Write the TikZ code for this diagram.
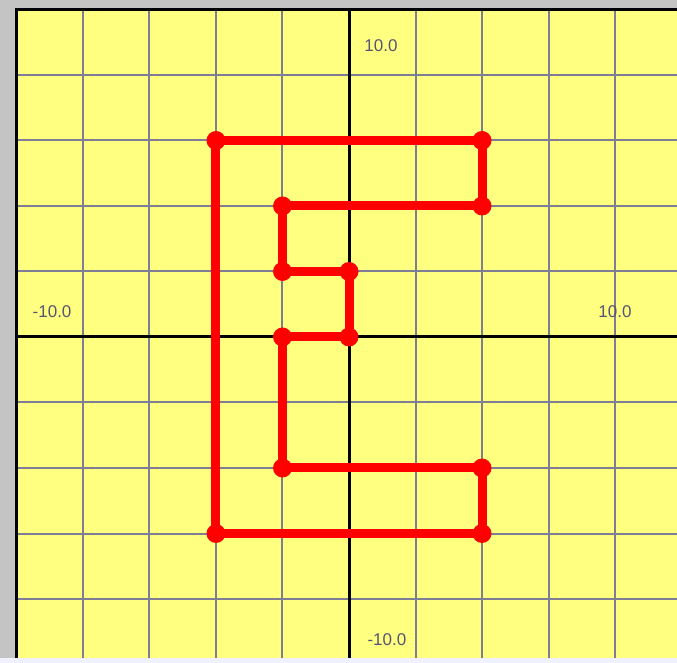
\documentclass[tikz,border=0pt]{standalone}
\usepackage{fontspec}
\setmainfont{Liberation Sans}
\definecolor{plotyellow}{RGB}{255,255,128}
\definecolor{gridc}{RGB}{125,125,150}
\definecolor{framegray}{RGB}{196,196,196}
\definecolor{labelc}{RGB}{85,85,115}
\definecolor{shapered}{RGB}{255,0,0}
\begin{document}
\begin{tikzpicture}[x=33.25pt,y=32.75pt,
  gridline/.style={draw=gridc,line width=2pt},
  axisline/.style={draw=black,line width=3pt},
  edgeline/.style={draw=shapered,line width=9pt,line join=round,line cap=round},
  vdot/.style={circle,fill=shapered,inner sep=0pt,minimum size=19pt},
  axlabel/.style={text=labelc,font=\fontsize{17}{17}\selectfont,inner sep=0pt}]
\useasboundingbox (-349pt,-326pt) rectangle (328pt,337pt);
% window background
\fill[framegray] (-349pt,-326pt) rectangle (328pt,337pt);
\fill[white!94!blue] (-349pt,-326pt) rectangle (328pt,-321pt);
% plot area
\fill[plotyellow] (-10,-9.8) rectangle (9.865,10);
% grid
\foreach \u in {-8,-6,-4,-2,2,4,6,8} {
  \draw[gridline] (\u,-9.8) -- (\u,10);
  \draw[gridline] (-10,\u) -- (9.865,\u);
}
% axes
\draw[axisline] (0,-9.8) -- (0,10);
\draw[axisline] (-10,0) -- (9.865,0);
% frame edges
\draw[draw=black,line width=3pt] (-10,-9.8) -- (-10,10) -- (9.865,10);
% labels
\node[axlabel] (ltop) at (0.96,8.89) {10.0};
\node[axlabel] (lleft) at (-8.93,0.76) {-10.0};
\node[axlabel] (lright) at (8.0,0.76) {10.0};
\node[axlabel] (lbottom) at (1.14,-9.25) {-10.0};
% shape vertices
\coordinate (p1) at (-4,6);
\coordinate (p2) at (4,6);
\coordinate (p3) at (4,4);
\coordinate (p4) at (-2,4);
\coordinate (p5) at (-2,2);
\coordinate (p6) at (0,2);
\coordinate (p7) at (0,0);
\coordinate (p8) at (-2,0);
\coordinate (p9) at (-2,-4);
\coordinate (p10) at (4,-4);
\coordinate (p11) at (4,-6);
\coordinate (p12) at (-4,-6);
\draw[edgeline] (p1) -- (p2) -- (p3) -- (p4) -- (p5) -- (p6) -- (p7) -- (p8) -- (p9) -- (p10) -- (p11) -- (p12) -- cycle;
\foreach \i in {1,...,12} { \node[vdot] (d\i) at (p\i) {}; }
\end{tikzpicture}
\end{document}
